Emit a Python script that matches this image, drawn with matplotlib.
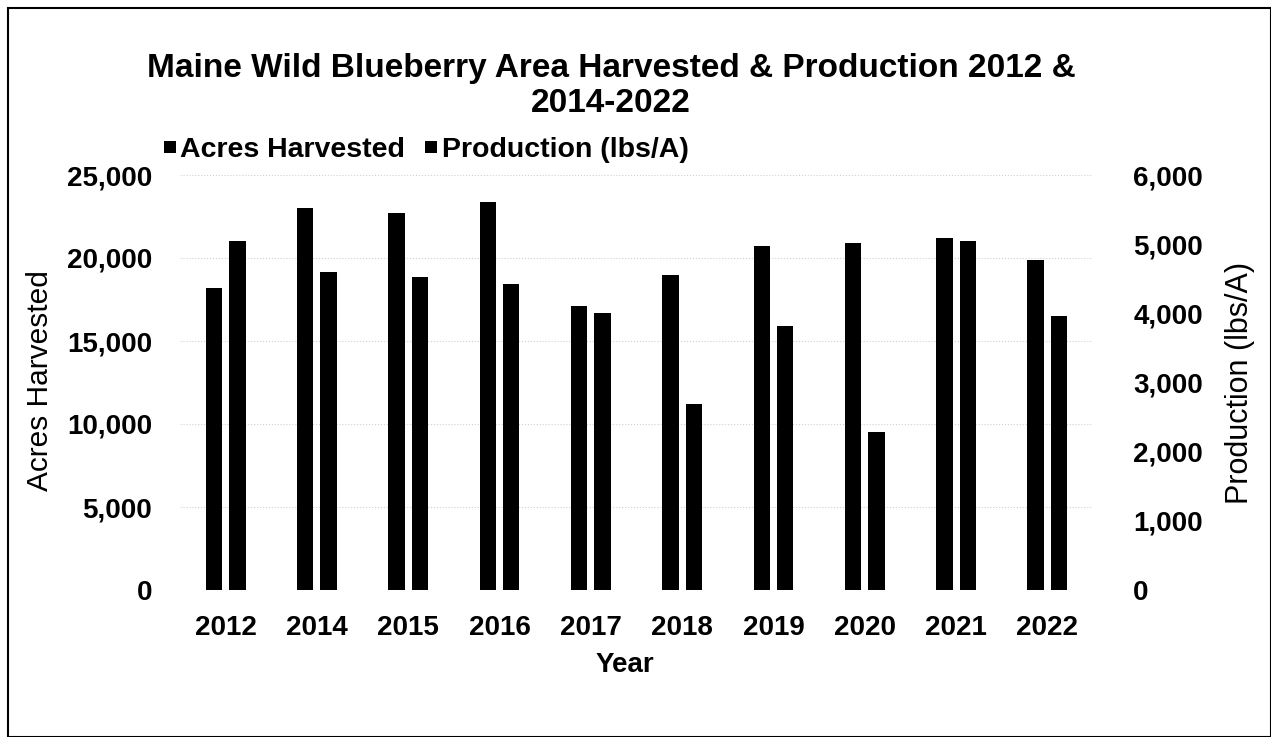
import numpy as np
import matplotlib; matplotlib.use("Agg")
import matplotlib.pyplot as plt
from matplotlib.patches import Rectangle
from matplotlib.ticker import FuncFormatter

plt.rcParams["font.family"] = ["Liberation Sans", "DejaVu Sans"]

YEARS = ["2012", "2014", "2015", "2016", "2017", "2018", "2019", "2020", "2021", "2022"]
ACRES = [18200, 23000, 22700, 23400, 17100, 19000, 20700, 20900, 21200, 19900]
PRODUCTION = [5050, 4600, 4530, 4420, 4010, 2690, 3810, 2290, 5040, 3960]

W, H = 1271, 737
fig = plt.figure(figsize=(W/100, H/100), dpi=100)

def fx(px): return px / W
def fy(py): return 1 - py / H

ax = fig.add_axes([fx(180), fy(590), fx(1093) - fx(180), fy(175) - fy(590)])
ax2 = ax.twinx()

x = np.arange(len(YEARS))
bw, off = 0.18, 0.128
b1 = ax.bar(x - off, ACRES, bw, color="black", label="Acres Harvested", zorder=3)
b2 = ax2.bar(x + off, PRODUCTION, bw, color="black", label="Production (lbs/A)", zorder=3)

ax.set_xlim(-0.5, len(YEARS) - 0.5)
ax.set_ylim(0, 25000); ax.set_yticks(np.arange(0, 25001, 5000))
ax2.set_ylim(0, 6000); ax2.set_yticks(np.arange(0, 6001, 1000))
fmt = FuncFormatter(lambda v, p: f"{v:,.0f}")
ax.yaxis.set_major_formatter(fmt); ax2.yaxis.set_major_formatter(fmt)
ax.set_xticks(x); ax.set_xticklabels(YEARS)

ax.grid(axis="y", color="#d0d0d0", linestyle=":", lw=0.8, zorder=0)
for a in (ax, ax2):
    for s in a.spines.values():
        s.set_visible(False)
ax.tick_params(axis="both", length=0, labelsize=20)
ax.tick_params(axis="y", pad=20)
ax.tick_params(axis="x", pad=18)
ax2.tick_params(axis="y", length=0, labelsize=20, pad=29)
for lab in ax.get_xticklabels() + ax.get_yticklabels() + ax2.get_yticklabels():
    lab.set_fontweight("bold")

fig.text(fx(40), fy(381), "Acres Harvested", rotation=90, ha="center", va="center", fontsize=21.5)
fig.text(fx(1240), fy(383), "Production (lbs/A)", rotation=90, ha="center", va="center", fontsize=22)
fig.text(fx(625), fy(665), "Year", ha="center", va="center", fontsize=20, fontweight="bold")

fig.text(fx(611), fy(68), "Maine Wild Blueberry Area Harvested & Production 2012 &",
         ha="center", va="center", fontsize=24, fontweight="bold")
fig.text(fx(611), fy(103), "2014-2022", ha="center", va="center", fontsize=24, fontweight="bold")

ax.legend([b1, b2], ["Acres Harvested", "Production (lbs/A)"], ncol=2, frameon=False,
          loc="center left", bbox_to_anchor=(fx(150), fy(150)), bbox_transform=fig.transFigure,
          prop={"size": 20.5, "weight": "bold"}, handlelength=0.42, handleheight=0.25,
          handletextpad=0.15, columnspacing=0.7, borderpad=0)

fig.patches.append(Rectangle((fx(8), 0), fx(1271) - fx(8), fy(8), transform=fig.transFigure,
                             fill=False, edgecolor="black", lw=1.5))

fig.savefig("out.png", dpi=100)
